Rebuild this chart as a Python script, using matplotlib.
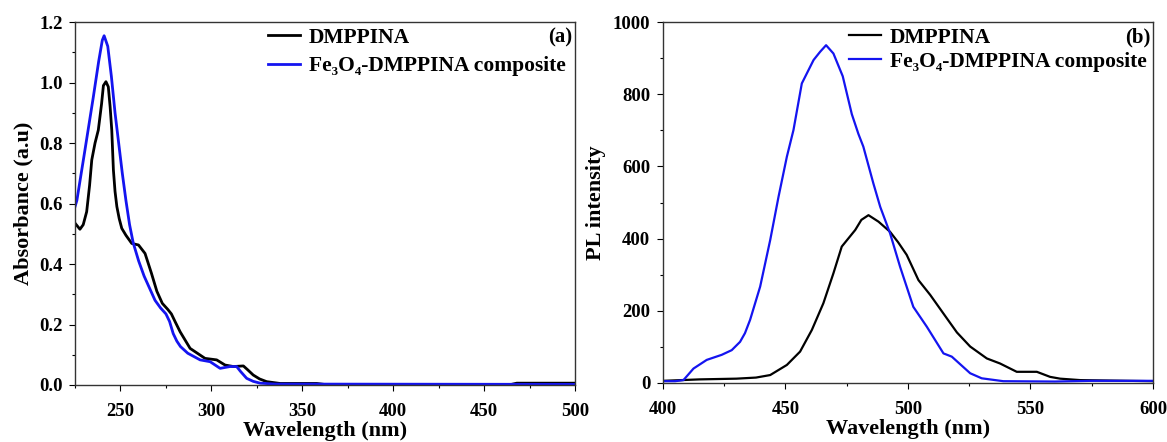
import numpy as np
import matplotlib.pyplot as plt
from matplotlib.ticker import MultipleLocator

plt.rcParams.update({
    "font.family": ["Liberation Serif", "DejaVu Serif"],
    "font.weight": "bold",
    "axes.labelweight": "bold",
    "axes.linewidth": 1.0,
    "axes.edgecolor": "#333333",
})

# UV-vis absorbance (a)
uv_wl_dm = [225, 227.7, 229.5, 231.4, 233, 234.2, 236, 237.8, 239.6, 240.6, 242, 243.3, 244.3,
            245.2, 246.1, 247, 248, 249.3, 250.7, 253, 256.2, 259.9, 263.5, 267, 270, 273, 276,
            278, 280, 282.8, 288.3, 296.5, 302.9, 307.5, 312.1, 317.6, 320, 323, 326.5, 330.4,
            337.8, 358, 362, 400, 465, 468, 500]
uv_dm = [0.535, 0.515, 0.53, 0.573, 0.66, 0.744, 0.80, 0.843, 0.93, 0.99, 1.003, 0.986, 0.92,
         0.843, 0.711, 0.64, 0.59, 0.55, 0.518, 0.495, 0.468, 0.463, 0.435, 0.37, 0.31, 0.27,
         0.25, 0.235, 0.21, 0.176, 0.121, 0.088, 0.083, 0.066, 0.061, 0.063, 0.05, 0.033, 0.02,
         0.011, 0.005, 0.005, 0.002, 0.002, 0.002, 0.006, 0.006]
uv_wl_fe = [225, 226, 230, 235, 238, 240, 241, 243, 245, 247, 249, 251, 253, 255, 257, 260, 263,
            266, 269, 272, 275, 277, 279, 281, 283, 287, 293.8, 299.3, 304.8, 310.3, 313.9, 316,
            319.4, 323, 326.8, 335, 500]
uv_fe = [0.59, 0.61, 0.76, 0.95, 1.07, 1.14, 1.155, 1.12, 1.02, 0.90, 0.80, 0.70, 0.61, 0.53,
         0.47, 0.41, 0.36, 0.32, 0.28, 0.255, 0.235, 0.21, 0.17, 0.145, 0.127, 0.105, 0.083, 0.077,
         0.055, 0.061, 0.061, 0.045, 0.022, 0.012, 0.006, 0.003, 0.002]

# PL emission (b)
pl_wl_dm = [400, 415, 430, 438, 443.8, 450.6, 456, 460.8, 465.5, 469.6, 473, 478.5, 481, 483.9,
            488, 492.7, 496, 499.5, 504.3, 509.1, 515.9, 520, 525.4, 532.2, 537.6, 544.4, 552.6,
            558, 562.1, 570.3, 600]
pl_dm = [6, 10, 12, 15, 22, 50, 87, 147, 221, 304, 378, 424, 452, 465, 447, 419, 390, 355, 285,
         244, 179, 140, 101, 68, 54, 31, 31, 17, 12, 8, 5]
pl_wl_fe = [400, 405, 408.4, 412.5, 417.9, 424, 428.1, 431.5, 433.5, 435.6, 439.7, 443.8, 447.2,
            450.6, 453.3, 456.7, 461.5, 464.2, 466.6, 469.6, 473.4, 477.1, 479.8, 481.8, 485.9,
            488.7, 492.7, 496.8, 502.2, 507.7, 514.5, 517.9, 525.4, 530.1, 538.9, 560, 575, 600]
pl_fe = [5, 5, 8, 40, 64, 78, 91, 114, 138, 175, 267, 396, 516, 627, 701, 830, 895, 918, 936,
         913, 850, 745, 690, 655, 553, 488, 415, 322, 211, 156, 82, 73, 27, 13, 5, 4, 6, 6]

labels = ["DMPPINA", "Fe\u2083O\u2084-DMPPINA composite"]
blue = "#1414f0"

fig = plt.figure(figsize=(11.67, 4.42), dpi=100)
ax1 = fig.add_axes([0.0643, 0.129, 0.4284, 0.821])
ax2 = fig.add_axes([0.568, 0.1335, 0.420, 0.8165])

ax1.plot(uv_wl_dm, uv_dm, color="black", lw=2.0, label=labels[0])
ax1.plot(uv_wl_fe, uv_fe, color=blue, lw=2.0, label=labels[1])
ax1.set_xlim(225, 500)
ax1.set_ylim(0, 1.2)
ax1.xaxis.set_major_locator(MultipleLocator(50))
ax1.xaxis.set_minor_locator(MultipleLocator(25))
ax1.yaxis.set_major_locator(MultipleLocator(0.2))
ax1.yaxis.set_minor_locator(MultipleLocator(0.1))
ax1.yaxis.set_major_formatter(plt.FormatStrFormatter("%.1f"))
ax1.set_xlabel("Wavelength (nm)", fontsize=16, labelpad=1)
ax1.set_ylabel("Absorbance (a.u)", fontsize=16, labelpad=4)
ax1.text(0.994, 0.985, "(a)", transform=ax1.transAxes, ha="right", va="top", fontsize=15)
ax1.legend(loc="upper left", bbox_to_anchor=(0.386, 0.985), frameon=False, fontsize=15.5,
           handlelength=1.5, handletextpad=0.4, labelspacing=0.4, borderpad=0, borderaxespad=0)

ax2.plot(pl_wl_dm, pl_dm, color="black", lw=1.6, label=labels[0])
ax2.plot(pl_wl_fe, pl_fe, color=blue, lw=1.6, label=labels[1])
ax2.set_xlim(400, 600)
ax2.set_ylim(0, 1000)
ax2.xaxis.set_major_locator(MultipleLocator(50))
ax2.xaxis.set_minor_locator(MultipleLocator(25))
ax2.yaxis.set_major_locator(MultipleLocator(200))
ax2.yaxis.set_minor_locator(MultipleLocator(100))
ax2.set_xlabel("Wavelength (nm)", fontsize=16, labelpad=1)
ax2.set_ylabel("PL intensity", fontsize=16, labelpad=5)
ax2.text(0.994, 0.985, "(b)", transform=ax2.transAxes, ha="right", va="top", fontsize=15)
ax2.legend(loc="upper left", bbox_to_anchor=(0.379, 0.985), frameon=False, fontsize=15.5,
           handlelength=1.5, handletextpad=0.4, labelspacing=0.2, borderpad=0, borderaxespad=0)

for ax in (ax1, ax2):
    ax.tick_params(which="major", direction="out", length=4, labelsize=13.5, width=0.8)
    ax.tick_params(axis="x", which="major", pad=9)
    ax.tick_params(axis="y", which="major", pad=5)
    ax.tick_params(which="minor", direction="out", length=2.5, width=0.8)
    for lab in ax.get_xticklabels() + ax.get_yticklabels():
        lab.set_fontweight("bold")

fig.savefig("out.png", dpi=100)
